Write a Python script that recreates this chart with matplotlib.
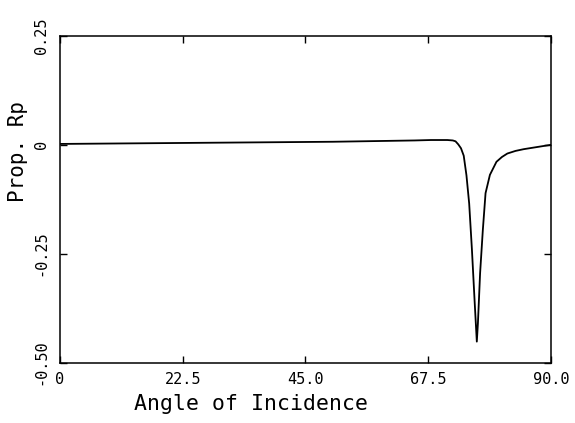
import matplotlib
matplotlib.use("Agg")
import matplotlib.pyplot as plt

angles = [0, 10, 20, 30, 40, 50, 60, 65, 68, 70, 71, 72, 72.5, 73, 73.5, 74,
          74.5, 75, 75.5, 76, 76.4, 76.6, 77, 77.5, 78, 78.8, 80, 81, 82, 83.5,
          85, 87, 90]
rp = [0.002, 0.003, 0.004, 0.005, 0.006, 0.007, 0.009, 0.010, 0.011, 0.011,
      0.011, 0.010, 0.008, 0.001, -0.008, -0.025, -0.07, -0.135, -0.24, -0.36,
      -0.452, -0.41, -0.295, -0.196, -0.111, -0.069, -0.039, -0.028, -0.02,
      -0.014, -0.01, -0.006, 0.0]

xticks = [0, 22.5, 45.0, 67.5, 90.0]
xticklabels = ["0", "22.5", "45.0", "67.5", "90.0"]
yticks = [0.25, 0, -0.25, -0.50]
yticklabels = ["0.25", "0", "-0.25", "-0.50"]

font = "DejaVu Sans Mono"

fig = plt.figure(figsize=(5.75, 4.23), dpi=100)
ax = fig.add_axes([0.1043, 0.143, 0.854, 0.772])
ax.plot(angles, rp, color="black", lw=1.3)
ax.set_xlim(0, 90)
ax.set_ylim(-0.5, 0.25)

ax.set_xticks(xticks)
ax.set_xticklabels(xticklabels, fontsize=11, family=font)
ax.set_yticks(yticks)
ax.set_yticklabels(yticklabels, fontsize=11, family=font, rotation=90, va="center")
ax.tick_params(direction="in", length=5, width=1, top=True, right=True, color="black")
ax.tick_params(axis="x", pad=7)
ax.tick_params(axis="y", pad=8)
for s in ax.spines.values():
    s.set_linewidth(1.1)

ax.set_xlabel("Angle of Incidence", fontsize=15.5, family=font)
ax.xaxis.set_label_coords(0.389, -0.095)
ax.set_ylabel("Prop. Rp", fontsize=15, family=font)
ax.yaxis.set_label_coords(-0.066, 0.645)

fig.savefig("out.png", dpi=100)
